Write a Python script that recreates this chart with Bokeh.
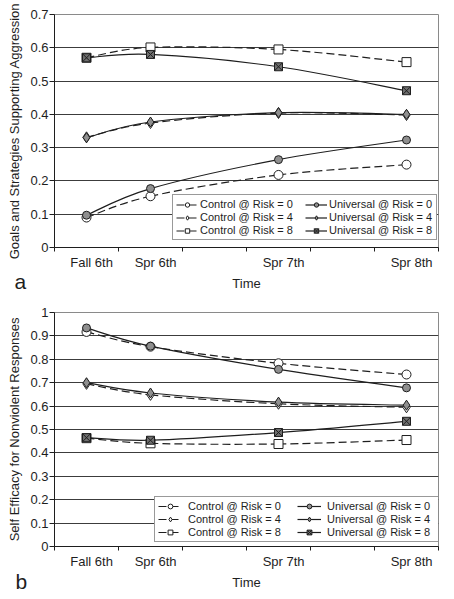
from bokeh.plotting import figure
from bokeh.layouts import column
from bokeh.models import FixedTicker, Legend, LegendItem, Title, ColumnDataSource, Range1d
from bokeh.embed import file_html
from bokeh.resources import INLINE

# ---------------- data ----------------
times = ["Fall 6th", "Spr 6th", "Spr 7th", "Spr 8th"]
time_pos = [0.0, 0.5, 1.5, 2.5]          # years after Fall 6th
series_labels = ["Control @ Risk = 0", "Control @ Risk = 4", "Control @ Risk = 8",
                 "Universal @ Risk = 0", "Universal @ Risk = 4", "Universal @ Risk = 8"]

# panel a: Goals and Strategies Supporting Aggression
a_control_r0 = [0.090, 0.154, 0.218, 0.249]
a_control_r4 = [0.331, 0.374, 0.404, 0.398]
a_control_r8 = [0.570, 0.601, 0.595, 0.557]
a_univ_r0 = [0.097, 0.177, 0.264, 0.323]
a_univ_r4 = [0.330, 0.377, 0.405, 0.400]
a_univ_r8 = [0.570, 0.580, 0.543, 0.471]
a_yticks = [0.0, 0.1, 0.2, 0.3, 0.4, 0.5, 0.6, 0.7]
a_ytick_labels = ["0", "0.1", "0.2", "0.3", "0.4", "0.5", "0.6", "0.7"]

# panel b: Self Efficacy for Nonviolent Responses
b_control_r0 = [0.917, 0.854, 0.783, 0.735]
b_control_r4 = [0.695, 0.648, 0.610, 0.595]
b_control_r8 = [0.463, 0.441, 0.438, 0.455]
b_univ_r0 = [0.934, 0.856, 0.757, 0.678]
b_univ_r4 = [0.700, 0.656, 0.617, 0.604]
b_univ_r8 = [0.465, 0.454, 0.487, 0.535]
b_yticks = [0.0, 0.1, 0.2, 0.3, 0.4, 0.5, 0.6, 0.7, 0.8, 0.9, 1.0]
b_ytick_labels = ["0", "0.1", "0.2", "0.3", "0.4", "0.5", "0.6", "0.7", "0.8", "0.9", "1"]

FONT = "Liberation Sans"
INK = "#1e1e1e"


def smooth_source(xs, ys):
    """Bezier segments (Catmull-Rom control points) through the data points."""
    n = len(xs)
    d = dict(x0=[], y0=[], x1=[], y1=[], cx0=[], cy0=[], cx1=[], cy1=[])
    for i in range(n - 1):
        p0 = max(i - 1, 0)
        p3 = min(i + 2, n - 1)
        d["x0"].append(xs[i]); d["y0"].append(ys[i])
        d["x1"].append(xs[i + 1]); d["y1"].append(ys[i + 1])
        d["cx0"].append(xs[i] + (xs[i + 1] - xs[p0]) / 6.0)
        d["cy0"].append(ys[i] + (ys[i + 1] - ys[p0]) / 6.0)
        d["cx1"].append(xs[i + 1] - (xs[p3] - xs[i]) / 6.0)
        d["cy1"].append(ys[i + 1] - (ys[p3] - ys[i]) / 6.0)
    return ColumnDataSource(d)


def make_panel(values, yticks, ytick_labels, ylabel, letter, height, border,
               legend_loc, leg_geom, letter_offset):
    top, bottom, right = border
    glyph_w, standoff, label_w, row_h, pad = leg_geom
    p = figure(width=450, height=height, output_backend="svg", toolbar_location=None,
               x_range=Range1d(-0.25, 2.75), y_range=Range1d(yticks[0], yticks[-1]),
               min_border_left=54, min_border_right=right, min_border_top=top,
               min_border_bottom=bottom, background_fill_color="white",
               border_fill_color="white")
    p.outline_line_color = "#8a8a8a"
    p.outline_line_width = 1

    # x axis: labels at measurement times, tick marks between category slots
    label_shift = 0.04
    p.xaxis.ticker = FixedTicker(ticks=[t + label_shift for t in time_pos],
                                 minor_ticks=[-0.25 + 0.5 * k for k in range(7)])
    p.xaxis.major_label_overrides = {t + label_shift: lab for t, lab in zip(time_pos, times)}
    p.xaxis.major_tick_out = 0
    p.xaxis.major_tick_in = 0
    p.xaxis.minor_tick_out = 4
    p.xaxis.minor_tick_in = 0
    p.xaxis.major_label_standoff = 3
    p.xaxis.axis_label = "Time"
    p.xaxis.axis_label_standoff = 3

    p.yaxis.ticker = FixedTicker(ticks=yticks, minor_ticks=[])
    p.yaxis.major_label_overrides = {t: lab for t, lab in zip(yticks, ytick_labels)}
    p.yaxis.major_tick_out = 5
    p.yaxis.major_tick_in = 0
    p.yaxis.major_label_standoff = 1
    p.yaxis.axis_label = ylabel
    p.yaxis.axis_label_standoff = 5

    for ax in (p.xaxis, p.yaxis):
        ax.axis_line_color = INK
        ax.major_tick_line_color = INK
        ax.minor_tick_line_color = INK
        ax.major_label_text_font = FONT
        ax.major_label_text_font_size = "13px"
        ax.major_label_text_color = INK
        ax.axis_label_text_font = FONT
        ax.axis_label_text_font_size = "13px"
        ax.axis_label_text_font_style = "normal"
        ax.axis_label_text_color = INK

    p.xgrid.visible = False
    p.ygrid.ticker = FixedTicker(ticks=yticks[1:-1])
    p.ygrid.grid_line_color = "#3c3c3c"
    p.ygrid.grid_line_width = 1

    styles = [
        dict(marker="circle", size=9, fill="white", dash="8 4"),
        dict(marker="diamond", size=11, fill="white", dash="8 4"),
        dict(marker="square", size=9, fill="white", dash="8 4"),
        dict(marker="circle", size=8, fill="#8f8f8f", dash="solid"),
        dict(marker="diamond", size=10, fill="#8f8f8f", dash="solid"),
        dict(marker="square_x", size=8, fill="#6e6e6e", dash="solid"),
    ]
    items = []
    for lab, ys, st in zip(series_labels, values, styles):
        src = smooth_source(time_pos, ys)
        curve = p.bezier(x0="x0", y0="y0", x1="x1", y1="y1", cx0="cx0", cy0="cy0",
                         cx1="cx1", cy1="cy1", source=src, line_color=INK,
                         line_width=1.2, line_dash=st["dash"])
        mk = p.scatter(x=time_pos, y=ys, marker=st["marker"], size=st["size"],
                       fill_color=st["fill"], line_color=INK, line_width=1)
        items.append(LegendItem(label=lab, renderers=[curve, mk]))

    leg = Legend(items=items, location=legend_loc, orientation="vertical", nrows=3,
                 label_text_font=FONT, label_text_font_size="11px",
                 label_text_color=INK, glyph_width=glyph_w, glyph_height=row_h,
                 label_height=row_h, label_width=label_w, label_standoff=standoff,
                 spacing=1, padding=pad, margin=0,
                 border_line_color="#333333", border_line_width=1,
                 background_fill_color="white", background_fill_alpha=1.0)
    p.add_layout(leg)

    # panel letter, pulled up into the row of the x-axis title, left of the plot
    p.add_layout(Title(text=letter, align="left", offset=letter_offset[0],
                       standoff=letter_offset[1], vertical_align="top",
                       text_font=FONT, text_font_size="21px", text_font_style="normal",
                       text_color=INK), "below")
    return p


pa = make_panel([a_control_r0, a_control_r4, a_control_r8, a_univ_r0, a_univ_r4, a_univ_r8],
                a_yticks, a_ytick_labels, "Goals and Strategies Supporting Aggression", "a",
                296, (14, 49, 12), (118, 7), (22, 2, 104, 11, 3), (-40, -48))
pb = make_panel([b_control_r0, b_control_r4, b_control_r8, b_univ_r0, b_univ_r4, b_univ_r8],
                b_yticks, b_ytick_labels, "Self Efficacy for Nonviolent Responses", "b",
                302, (16, 52, 10), (100, 4), (24, 6, 108, 12, 3), (-39, -46))

layout = column(pa, pb, spacing=0)
open("out.html", "w").write(file_html(layout, INLINE))
